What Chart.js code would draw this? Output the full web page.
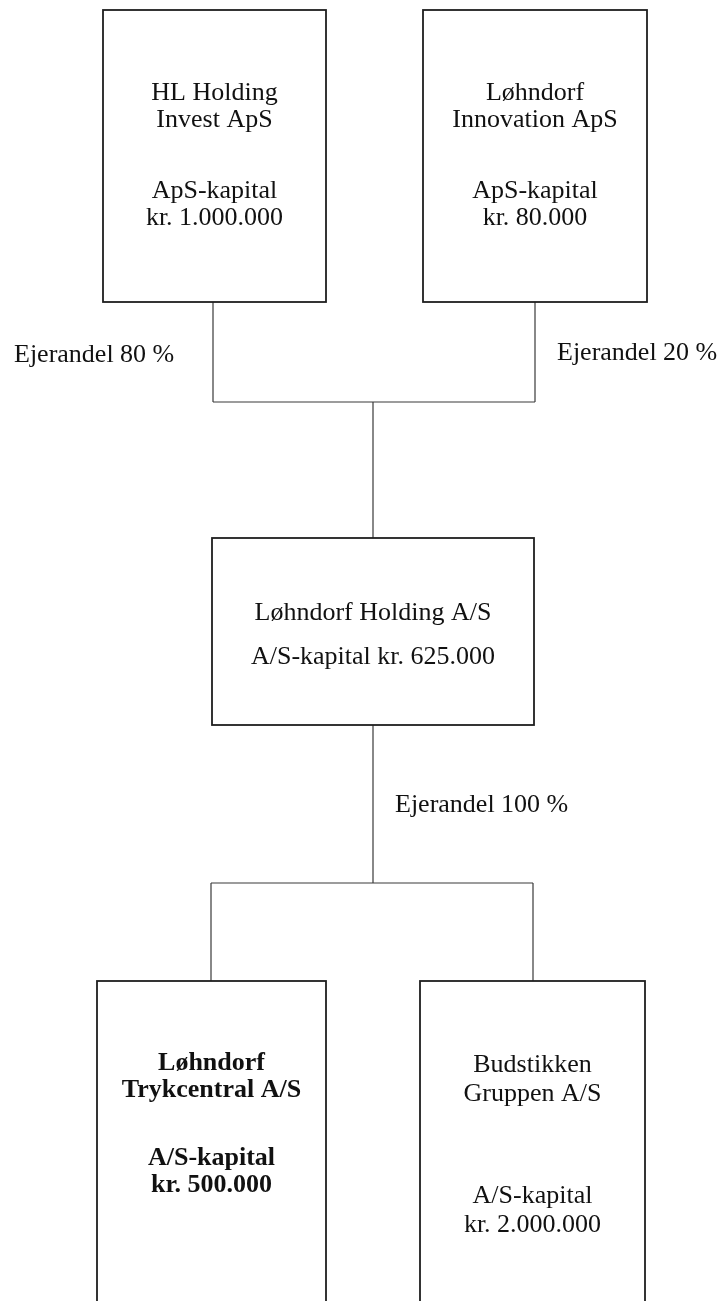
<!DOCTYPE html>
<html>
<head>
<meta charset="utf-8">
<script src="https://cdn.jsdelivr.net/npm/chart.js@4.4.1/dist/chart.umd.min.js"></script>
<style>
  html, body { margin: 0; padding: 0; background: #fff; }
  #wrap { width: 723px; height: 1301px; }
</style>
</head>
<body>
<div id="wrap"><canvas id="orgChart"></canvas></div>
<script>
// Selskaber (koncernstruktur)
const nameLines = [
    ['HL Holding', 'Invest ApS'],
    ['Løhndorf', 'Innovation ApS'],
    ['Løhndorf Holding A/S'],
    ['Løhndorf', 'Trykcentral A/S'],
    ['Budstikken', 'Gruppen A/S']
];
const capitalLines = [
    ['ApS-kapital', 'kr. 1.000.000'],
    ['ApS-kapital', 'kr. 80.000'],
    ['A/S-kapital kr. 625.000'],
    ['A/S-kapital', 'kr. 500.000'],
    ['A/S-kapital', 'kr. 2.000.000']
];
const boldCompany = [false, false, false, true, false];
// ejer -> datterselskab
const ownerOf = [null, null, [0, 1], [2], [2]];
const ownershipPct = [80, 20, 100];
const ownershipText = ownershipPct.map(p => 'Ejerandel ' + p + ' %');

// Layout i akse-enheder (1 enhed = 1 px)
const boxes = [
    { x0: 103, x1: 326, y0: 10, y1: 302, nameY: 100, capY: 198, step: 27 },
    { x0: 423, x1: 647, y0: 10, y1: 302, nameY: 100, capY: 198, step: 27 },
    { x0: 212, x1: 534, y0: 538, y1: 725, nameY: 620, capY: 664, step: 27 },
    { x0: 97, x1: 326, y0: 981, y1: 1320, nameY: 1070, capY: 1165, step: 27 },
    { x0: 420, x1: 645, y0: 981, y1: 1320, nameY: 1072, capY: 1203, step: 29 }
];
const joints = [
    { xs: [213, 535], bus: 402, stem: 373 },  // HL + Innovation -> Holding
    { xs: [211, 533], bus: 883, stem: 373 }   // Holding -> Tryk + Budstikken
];
const labelPos = [
    { x: 14, y: 362, align: 'left' },
    { x: 557, y: 360, align: 'left' },
    { x: 395, y: 812, align: 'left' }
];

const FONT = '"Liberation Serif", "Times New Roman", serif';

const orgPlugin = {
    id: 'orgPlugin',
    afterDraw(chart) {
        const { ctx, scales } = chart;
        const X = v => scales.x.getPixelForValue(v);
        const Y = v => scales.y.getPixelForValue(v);
        ctx.save();

        // forbindelseslinjer
        ctx.strokeStyle = '#3a3a3a';
        ctx.lineWidth = 1.2;
        const topJ = joints[0], botJ = joints[1];
        ctx.beginPath();
        ownerOf[2].forEach((o, i) => {
            ctx.moveTo(X(topJ.xs[i]), Y(boxes[o].y1));
            ctx.lineTo(X(topJ.xs[i]), Y(topJ.bus));
        });
        ctx.moveTo(X(topJ.xs[0]), Y(topJ.bus));
        ctx.lineTo(X(topJ.xs[1]), Y(topJ.bus));
        ctx.moveTo(X(topJ.stem), Y(topJ.bus));
        ctx.lineTo(X(topJ.stem), Y(boxes[2].y0));

        ctx.moveTo(X(botJ.stem), Y(boxes[2].y1));
        ctx.lineTo(X(botJ.stem), Y(botJ.bus));
        ctx.moveTo(X(botJ.xs[0]), Y(botJ.bus));
        ctx.lineTo(X(botJ.xs[1]), Y(botJ.bus));
        [3, 4].forEach((c, i) => {
            ctx.moveTo(X(botJ.xs[i]), Y(botJ.bus));
            ctx.lineTo(X(botJ.xs[i]), Y(boxes[c].y0));
        });
        ctx.stroke();

        // bokse
        ctx.strokeStyle = '#1e1e1e';
        ctx.lineWidth = 1.8;
        boxes.forEach(b => {
            ctx.strokeRect(X(b.x0), Y(b.y0), X(b.x1) - X(b.x0), Y(b.y1) - Y(b.y0));
        });

        // tekst i bokse
        ctx.fillStyle = '#111';
        ctx.textAlign = 'center';
        ctx.textBaseline = 'alphabetic';
        boxes.forEach((b, i) => {
            ctx.font = (boldCompany[i] ? 'bold ' : '') + '26px ' + FONT;
            const cx = X((b.x0 + b.x1) / 2);
            nameLines[i].forEach((t, k) => ctx.fillText(t, cx, Y(b.nameY + k * b.step)));
            capitalLines[i].forEach((t, k) => ctx.fillText(t, cx, Y(b.capY + k * b.step)));
        });

        // ejerandele
        ctx.font = '26px ' + FONT;
        ownershipText.forEach((t, i) => {
            ctx.textAlign = labelPos[i].align;
            ctx.fillText(t, X(labelPos[i].x), Y(labelPos[i].y));
        });
        ctx.restore();
    }
};

new Chart(document.getElementById('orgChart'), {
    type: 'scatter',
    data: { datasets: [{ data: [], pointRadius: 0 }] },
    options: {
        responsive: true,
        maintainAspectRatio: false,
        animation: false,
        layout: { padding: 0 },
        plugins: { legend: { display: false }, tooltip: { enabled: false } },
        scales: {
            x: { type: 'linear', min: 0, max: 723, display: false },
            y: { type: 'linear', min: 0, max: 1301, reverse: true, display: false }
        }
    },
    plugins: [orgPlugin]
});
</script>
</body>
</html>
